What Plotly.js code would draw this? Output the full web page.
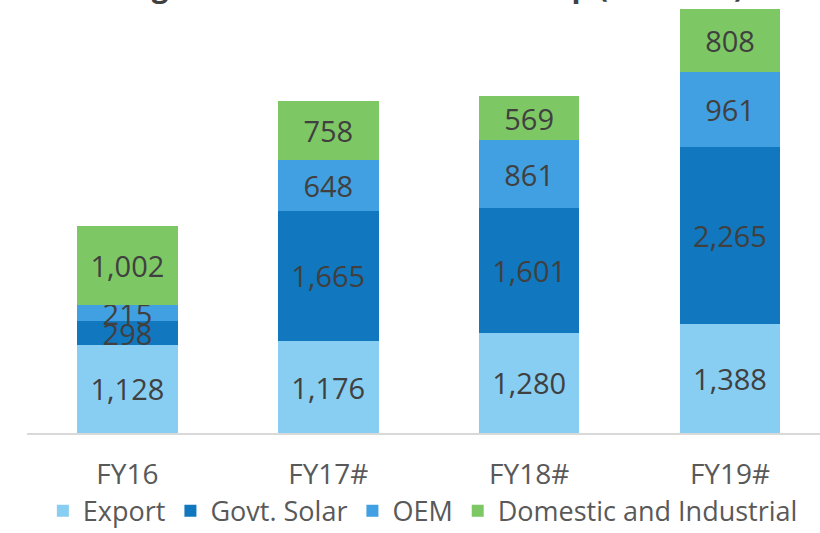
<!DOCTYPE html>
<html>
<head>
<meta charset="utf-8">
<script src="https://cdn.plot.ly/plotly-3.0.1.min.js"></script>
<style>html,body{margin:0;padding:0;background:#fff;}#chart{width:820px;height:533px;}</style>
</head>
<body>
<div id="chart"></div>
<script>
var categories = ["FY16", "FY17#", "FY18#", "FY19#"];
var exportVals = [1128, 1176, 1280, 1388];
var govtSolarVals = [298, 1665, 1601, 2265];
var oemVals = [215, 648, 861, 961];
var domesticVals = [1002, 758, 569, 808];
var seriesNames = ["Export", "Govt. Solar", "OEM", "Domestic and Industrial"];
var titleText = "Segment-wise Revenue Breakup (in Rs mn)";

var FONT = "'Open Sans', sans-serif";
var colors = ["#87CEF2", "#1177BE", "#41A0E1", "#7DC864"];
var allVals = [exportVals, govtSolarVals, oemVals, domesticVals];

function fmt(v) { return v.toLocaleString("en-US"); }

var traces = allVals.map(function (vals, i) {
  return {
    type: "bar",
    name: seriesNames[i],
    x: categories,
    y: vals,
    text: vals.map(fmt),
    textposition: "inside",
    insidetextanchor: "middle",
    constraintext: "none",
    textfont: { family: FONT, size: 29, color: "#404040" },
    marker: { color: colors[i], line: { width: 0 } },
    hoverinfo: "none"
  };
});

var layout = {
  width: 820,
  height: 533,
  barmode: "stack",
  bargap: 0.5,
  paper_bgcolor: "#ffffff",
  plot_bgcolor: "#ffffff",
  margin: { l: 27, r: 0, t: 5, b: 100, autoexpand: false },
  showlegend: true,
  legend: {
    orientation: "h",
    x: 0.02, xanchor: "left",
    y: -0.24, yanchor: "bottom",
    font: { family: FONT, size: 27, color: "#595959" },
    traceorder: "normal"
  },
  xaxis: {
    type: "category",
    range: [-0.5, 3.448],
    showline: true,
    linecolor: "#d9d9d9",
    linewidth: 1.5,
    ticks: "",
    showgrid: false,
    tickfont: { family: FONT, size: 28, color: "#595959" },
    ticklabelstandoff: 16
  },
  yaxis: {
    range: [0, 5473],
    visible: false,
    showgrid: false,
    zeroline: false
  },
  annotations: [{
    text: "<b>" + titleText + "</b>",
    xref: "paper", yref: "paper",
    x: 0.51, y: 0.992,
    xanchor: "center", yanchor: "bottom",
    showarrow: false,
    font: { family: FONT, size: 29.5, color: "#404040" }
  }]
};

Plotly.newPlot("chart", traces, layout, { staticPlot: true, displayModeBar: false });
</script>
</body>
</html>
